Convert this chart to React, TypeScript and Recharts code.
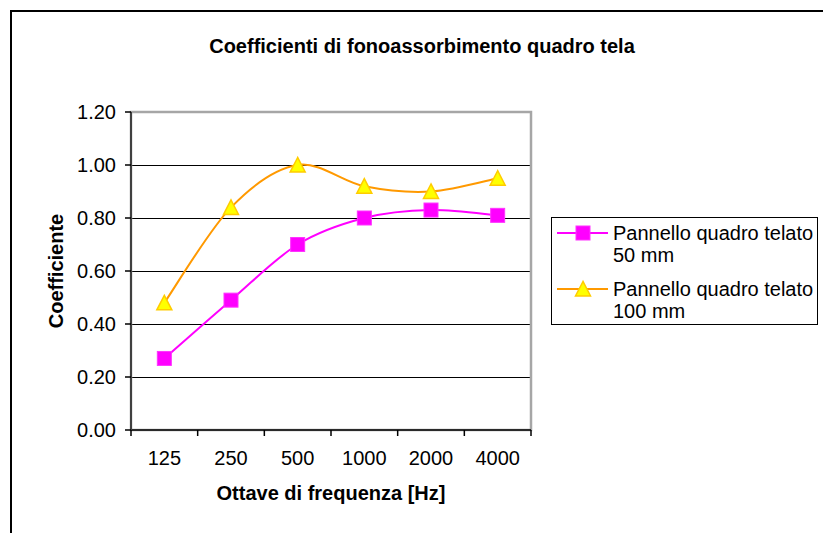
import { CartesianGrid, Legend, Line, LineChart, ReferenceArea, XAxis, YAxis } from "recharts";

const frequencies = ["125", "250", "500", "1000", "2000", "4000"];
const panel50 = [0.27, 0.49, 0.7, 0.8, 0.83, 0.81];
const panel100 = [0.48, 0.84, 1.0, 0.92, 0.9, 0.95];
const yTicks = [0, 0.2, 0.4, 0.6, 0.8, 1.0, 1.2];
const seriesNames = ["Pannello quadro telato 50 mm", "Pannello quadro telato 100 mm"];

const data = frequencies.map((f, i) => ({ x: i + 0.5, freq: f, a: panel50[i], b: panel100[i] }));
const xTicks = Array.from({ length: frequencies.length * 2 + 1 }, (_, i) => i / 2);

const FONT = "'Liberation Sans', Arial, Helvetica, sans-serif";
const FS = 20;

// Excel-style smoothed line (Catmull-Rom through the points)
function excelCurve(context: any) {
  let pts: [number, number][] = [];
  return {
    areaStart() {},
    areaEnd() {},
    lineStart() {
      pts = [];
    },
    lineEnd() {
      const n = pts.length;
      if (!n) return;
      context.moveTo(pts[0][0], pts[0][1]);
      for (let i = 0; i < n - 1; i++) {
        const p0 = pts[Math.max(0, i - 1)];
        const p1 = pts[i];
        const p2 = pts[i + 1];
        const p3 = pts[Math.min(n - 1, i + 2)];
        context.bezierCurveTo(
          p1[0] + (p2[0] - p0[0]) / 6,
          p1[1] + (p2[1] - p0[1]) / 6,
          p2[0] - (p3[0] - p1[0]) / 6,
          p2[1] - (p3[1] - p1[1]) / 6,
          p2[0],
          p2[1]
        );
      }
    },
    point(x: number, y: number) {
      pts.push([+x, +y]);
    },
  };
}

function Square({ cx, cy }: { cx: number; cy: number }) {
  return <rect x={cx - 7} y={cy - 7} width={14} height={14} fill="#FF00FF" stroke="#FF33FF" strokeWidth={1} />;
}

function Triangle({ cx, cy }: { cx: number; cy: number }) {
  return (
    <polygon
      points={`${cx},${cy - 7.5} ${cx - 7.5},${cy + 7} ${cx + 7.5},${cy + 7}`}
      fill="#FFFF00"
      stroke="#FFCC00"
      strokeWidth={1.5}
    />
  );
}

function XTick(props: any) {
  const { x, y, payload } = props;
  const v = payload.value as number;
  if (Number.isInteger(v)) {
    return <line x1={x} y1={y} x2={x} y2={y + 6} stroke="#000" strokeWidth={1.5} />;
  }
  return (
    <text x={x} y={y + 35} textAnchor="middle" fontSize={FS} fontFamily={FONT} fill="#000">
      {frequencies[Math.floor(v)]}
    </text>
  );
}

function LegendBox({ payload }: any) {
  const items = (payload || [])
    .filter((p: any) => p.value)
    .sort((p: any, q: any) => String(p.dataKey).localeCompare(String(q.dataKey)));
  return (
    <div
      style={{
        width: 265,
        border: "1px solid #000",
        background: "#fff",
        padding: "4px 0 2px 0",
        fontFamily: FONT,
        fontSize: FS,
        lineHeight: "22px",
        color: "#000",
      }}
    >
      {items.map((p: any, i: number) => (
        <div key={p.value} style={{ display: "flex", alignItems: "flex-start", marginTop: i ? 12 : 0 }}>
          <svg width={61} height={22} style={{ flex: "none" }}>
            <line x1={5} y1={11} x2={56} y2={11} stroke={p.color} strokeWidth={2} />
            {p.dataKey === "a" ? <Square cx={31} cy={11} /> : <Triangle cx={31} cy={11} />}
          </svg>
          <div style={{ width: 203 }}>{p.value}</div>
        </div>
      ))}
    </div>
  );
}

export default function App() {
  return (
    <div style={{ position: "fixed", left: 0, top: 0, width: 823, height: 533, overflow: "hidden", background: "#fff" }}>
      <div
        style={{
          position: "absolute",
          left: 10,
          top: 10,
          width: 840,
          height: 560,
          border: "2px solid #000",
        }}
      />
      <div
        style={{
          position: "absolute",
          left: 0,
          top: 35,
          width: 844,
          textAlign: "center",
          fontFamily: FONT,
          fontWeight: "bold",
          fontSize: FS,
        }}
      >
        Coefficienti di fonoassorbimento quadro tela
      </div>
      <div style={{ position: "absolute", left: 0, top: 0 }}>
        <LineChart width={823} height={533} data={data} margin={{ top: 112, right: 292, left: 40, bottom: 0 }}>
          <CartesianGrid
            horizontal
            vertical={false}
            stroke="#000"
            shapeRendering="crispEdges"
            horizontalValues={[0.2, 0.4, 0.6, 0.8, 1.0]}
          />
          <ReferenceArea
            x1={0}
            x2={6}
            y1={0}
            y2={1.2}
            fill="none"
            fillOpacity={0}
            stroke="#A6A6A6"
            strokeWidth={2.5}
            ifOverflow="visible"
          />
          <XAxis
            dataKey="x"
            type="number"
            domain={[0, 6]}
            ticks={xTicks}
            interval={0}
            tick={<XTick />}
            tickLine={false}
            tickSize={0}
            tickMargin={0}
            height={103}
            axisLine={{ stroke: "#000", strokeWidth: 1.5 }}
            label={{
              content: (props: any) => {
                const vb = props.viewBox;
                return (
                  <text
                    x={vb.x + vb.width / 2}
                    y={vb.y + 70}
                    textAnchor="middle"
                    fontSize={FS}
                    fontWeight="bold"
                    fontFamily={FONT}
                    fill="#000"
                  >
                    Ottave di frequenza [Hz]
                  </text>
                );
              },
            }}
          />
          <YAxis
            type="number"
            domain={[0, 1.2]}
            ticks={yTicks}
            interval={0}
            width={91}
            tickFormatter={(v: number) => v.toFixed(2)}
            tick={{ fontSize: FS, fontFamily: FONT, fill: "#000" }}
            tickSize={6}
            tickMargin={9}
            tickLine={{ stroke: "#000", strokeWidth: 1.5 }}
            axisLine={{ stroke: "#404040", strokeWidth: 2 }}
            label={{
              content: (props: any) => {
                const vb = props.viewBox;
                const cx = vb.x + 16;
                const cy = vb.y + vb.height / 2;
                return (
                  <text
                    x={cx}
                    y={cy}
                    transform={`rotate(-90 ${cx} ${cy})`}
                    textAnchor="middle"
                    dominantBaseline="central"
                    fontSize={FS}
                    fontWeight="bold"
                    fontFamily={FONT}
                    fill="#000"
                  >
                    Coefficiente
                  </text>
                );
              },
            }}
          />
          <Legend
            layout="vertical"
            align="center"
            verticalAlign="middle"
            wrapperStyle={{ left: 551, top: 217, width: 267 }}
            content={<LegendBox />}
          />
          <Line
            type={excelCurve as any}
            dataKey="a"
            name={seriesNames[0]}
            stroke="#FF00FF"
            strokeWidth={2}
            dot={(p: any) => <Square key={`a${p.index}`} cx={p.cx} cy={p.cy} />}
            activeDot={false}
            isAnimationActive={false}
          />
          <Line
            type={excelCurve as any}
            dataKey="b"
            name={seriesNames[1]}
            stroke="#FF9900"
            strokeWidth={2}
            dot={(p: any) => <Triangle key={`b${p.index}`} cx={p.cx} cy={p.cy} />}
            activeDot={false}
            isAnimationActive={false}
          />
        </LineChart>
      </div>
    </div>
  );
}
